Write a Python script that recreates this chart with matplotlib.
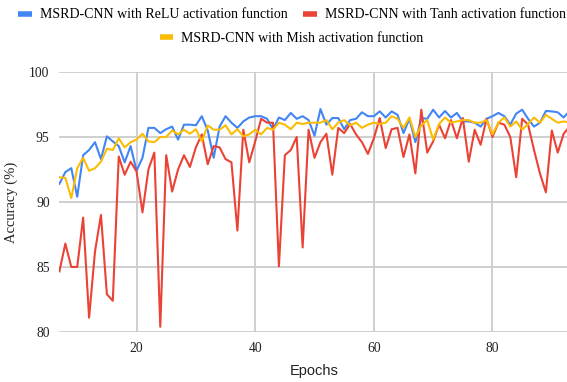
import matplotlib
matplotlib.use("Agg")
import matplotlib.pyplot as plt
from matplotlib.lines import Line2D
import numpy as np

epochs = np.arange(7, 94)

relu = [91.4, 92.3, 92.6, 90.4, 93.6, 94.0, 94.6, 93.3, 95.05, 94.66,
        94.3, 93.05, 94.3, 92.4, 93.4, 95.7, 95.7, 95.3, 95.6, 95.8,
        94.8, 95.95, 95.95, 95.9, 96.6, 95.5, 93.4, 95.8, 96.6, 96.1,
        95.7, 96.2, 96.5, 96.6, 96.6, 96.4, 95.6, 96.5, 96.3, 96.85,
        96.4, 96.6, 96.3, 95.1, 97.15, 95.95, 96.46, 96.46, 95.6, 96.3,
        96.4, 96.9, 96.6, 96.6, 96.97, 96.5, 96.97, 96.7, 95.3, 96.4,
        94.6, 96.46, 96.4, 97.1, 96.5, 97.0, 96.5, 96.85, 96.2, 96.2,
        96.1, 95.8, 96.4, 96.6, 96.85, 96.6, 95.95, 96.8, 97.1, 96.4,
        95.8, 96.1, 97.0, 96.97, 96.9, 96.5, 97.0]

tanh = [84.66, 86.8, 85.0, 85.0, 88.8, 81.1, 86.2, 89.0, 82.9, 82.4,
        93.5, 92.1, 93.1, 92.35, 89.2, 92.5, 93.8, 80.4, 93.6, 90.8,
        92.5, 93.6, 92.7, 94.2, 95.2, 92.9, 94.3, 94.2, 93.3, 93.05,
        87.8, 95.56, 93.05, 94.66, 96.4, 96.1, 96.1, 85.05, 93.6, 94.0,
        95.0, 86.5, 95.56, 93.4, 94.6, 95.25, 92.1, 95.7, 95.3, 96.0,
        95.2, 94.6, 93.7, 94.9, 96.46, 94.15, 95.6, 95.7, 93.46, 95.2,
        92.2, 97.1, 93.8, 94.66, 95.95, 94.9, 96.3, 94.9, 96.46, 93.1,
        95.56, 94.4, 96.4, 95.0, 96.1, 95.95, 95.0, 91.9, 96.4, 95.95,
        94.0, 92.2, 90.74, 95.5, 93.8, 95.25, 95.8]

mish = [91.9, 91.85, 90.3, 92.6, 93.4, 92.4, 92.6, 93.1, 94.1, 94.0,
        94.9, 94.2, 94.6, 94.8, 95.25, 94.66, 94.6, 95.0, 95.0, 95.5,
        95.2, 95.56, 95.25, 95.6, 94.66, 95.9, 95.56, 95.56, 95.9, 95.2,
        95.6, 95.05, 95.2, 95.56, 95.2, 95.7, 95.56, 96.1, 95.95, 95.6,
        96.1, 96.0, 96.1, 96.1, 96.1, 96.3, 95.6, 96.1, 96.3, 95.9,
        96.1, 95.7, 95.95, 96.1, 96.0, 96.1, 96.6, 96.4, 95.7, 96.5,
        95.0, 95.9, 96.3, 94.8, 96.0, 96.5, 96.1, 96.2, 96.3, 96.3,
        96.1, 96.1, 96.3, 95.2, 96.1, 96.5, 95.8, 96.2, 95.56, 96.0,
        96.5, 96.1, 96.7, 96.4, 96.1, 96.2, 96.1]

labels = ["MSRD-CNN with ReLU activation function",
          "MSRD-CNN with Tanh activation function",
          "MSRD-CNN with Mish activation function"]
colors = ["#4285F4", "#EA4335", "#FBBC04"]

serif = "Liberation Serif"

fig = plt.figure(figsize=(5.67, 3.82), dpi=100)
ax = fig.add_axes([0.1048, 0.131, 0.8998, 0.6805])

ax.plot(epochs, relu, color=colors[0], lw=1.5, zorder=3)
ax.plot(epochs, tanh, color=colors[1], lw=1.5, zorder=4)
ax.plot(epochs, mish, color=colors[2], lw=1.5, zorder=5)

ax.set_xlim(7, 93)
ax.set_ylim(80, 100)
ax.set_yticks([80, 85, 90, 95, 100])
ax.set_xticks([20, 40, 60, 80])
ax.grid(True, color="#cccccc", lw=1.3)
ax.set_axisbelow(True)
for s in ax.spines.values():
    s.set_visible(False)
ax.tick_params(length=0, pad=7, labelsize=9.8)
for t in ax.get_xticklabels() + ax.get_yticklabels():
    t.set_fontfamily(serif)
    t.set_color("#222222")

ax.set_xlabel("Epochs", fontfamily="Liberation Sans", fontsize=10.5,
              color="#222222", labelpad=7)
ax.set_ylabel("Accuracy (%)", fontfamily=serif, fontsize=10.5,
              color="#222222", labelpad=8)

handles = [Line2D([], [], color=c, lw=4, solid_capstyle="butt") for c in colors]
leg_kw = dict(frameon=False, handlelength=1.0, handletextpad=0.55,
              prop={"family": serif, "size": 10})
fig.legend(handles[:2], labels[:2], loc="center", ncol=2,
           bbox_to_anchor=(0.515, 0.961), columnspacing=1.1, **leg_kw)
fig.legend(handles[2:], labels[2:], loc="center",
           bbox_to_anchor=(0.514, 0.90), **leg_kw)

fig.savefig("out.png", dpi=100)
